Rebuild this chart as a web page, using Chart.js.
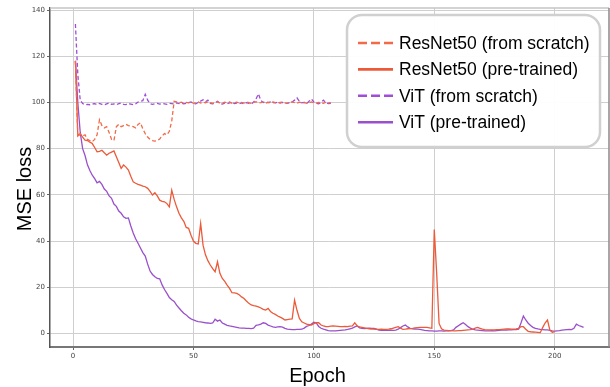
<!DOCTYPE html>
<html>
<head>
<meta charset="utf-8">
<script src="https://cdn.jsdelivr.net/npm/chart.js@4.4.1/dist/chart.umd.min.js"></script>
<style>
  html, body { margin: 0; padding: 0; background: #fff; }
  canvas { display: block; }
</style>
</head>
<body>
<canvas id="chart" width="610" height="387"></canvas>
<script>
// valeurs, une par epoch (epoch 1, 2, 3, ...)
const firstEpoch = 1;

const resnetScratch = [
  118, 85, 86.5, 85.5, 86, 84, 83.5, 83, 84, 86,
  92.5, 90, 89, 89.5, 87, 84, 83.5, 89.5, 90.5, 89.5,
  90, 90.5, 90, 89.8, 89.5, 89, 90.5, 91.2, 88.5, 86.5,
  85, 84, 83.5, 83.3, 83.5, 84.2, 85.5, 86.5, 86, 87.5,
  92, 100.5, 100.2, 99.8, 100.1, 99.7, 100, 99.8, 100.2, 99.6,
  99.9, 100.2, 99.7, 100.1, 99.8, 100.3, 99.9, 99.6, 100, 100.2,
  99.8, 99.7, 100.1, 99.9, 100.2, 99.6, 99.9, 100.1, 99.8, 100,
  99.7, 100.2, 99.9, 99.6, 100, 100.3, 99.8, 99.9, 100.1, 99.7,
  100, 99.8, 100.2, 99.9, 99.7, 100, 100.1, 99.8, 99.6, 100,
  100.2, 99.9, 99.7, 100.1, 99.8, 100, 99.6, 99.9, 100.2, 99.8,
  99.7, 100, 99.9, 99.6, 100.1, 99.8, 99.9
];

const resnetPre = [
  118, 85.5, 86.5, 85, 83.7, 83.5, 82.8, 82.2, 80.5, 78.6,
  78.8, 79.3, 78.2, 77.2, 78, 78.5, 79, 76.5, 74, 71.4,
  72.9, 72, 70.7, 68, 65.6, 65, 64.5, 64.2, 63.8, 63.5,
  62.8, 61.5, 59.9, 60.9, 59.5, 57.7, 57.2, 57, 56.2, 54.8,
  62, 58, 54.8, 52, 50, 48.5, 45.9, 45.5, 42.5, 40,
  39, 38.7, 47.6, 38.2, 34, 31.5, 29.6, 28, 26.7, 31,
  26, 23.8, 22.5, 20.9, 19.5, 17.6, 17.5, 17.3, 16.7, 15.8,
  15.1, 14, 13, 12.3, 12, 11.8, 11.5, 11, 10.4, 10.1,
  10.8, 9.5, 8.7, 8.2, 7.5, 7, 6.5, 5.8, 6, 6.2,
  6.3, 14.4, 10, 6.5, 5, 4.5, 4, 3.8, 3.6, 4.2,
  4.6, 4.6, 3.6, 3.2, 2.9, 2.9, 3.1, 3.2, 3.1, 3,
  2.9, 2.9, 3, 2.9, 3.1, 3.2, 4.6, 3.2, 2.8, 2.6,
  2.4, 2.2, 2, 1.9, 1.8, 1.7, 1.7, 1.8, 1.7, 1.7,
  1.8, 2, 2.3, 2.6, 2.9, 2.3, 1.7, 1.8, 2, 2.1,
  2.2, 2.4, 2.5, 2.6, 2.6, 2.6, 2.6, 2.4, 2.2, 45,
  26, 4.3, 2, 1.4, 1.3, 1.2, 1.2, 1.1, 1.1, 1.2,
  1.2, 1.3, 1.4, 1.5, 1.6, 1.8, 2.3, 2.6, 2.2, 1.8,
  1.6, 1.5, 1.5, 1.5, 1.5, 1.6, 1.6, 1.7, 1.8, 1.9,
  1.9, 1.8, 1.8, 1.9, 2.2, 2.9, 2.9, 1.8, 0.9, 0.7,
  0.6, 0.5, 0.4, 0.3, 2.5, 4.5, 5.8, 1.4, 0.5, 0.8
];

const vitScratch = [
  134, 112, 101, 99.5, 99, 99.2, 99, 99.3, 99.5, 99.1,
  99.6, 99.2, 99, 99.4, 99.8, 99.2, 99.4, 99, 99.5, 99.7,
  99.2, 99.1, 99.5, 99.3, 99, 99.4, 100.2, 100.5, 100.8, 103.5,
  101, 99.5, 99.2, 99.4, 99.6, 99.3, 99.5, 99.4, 99.2, 99.6,
  99.5, 99.3, 99.8, 99.5, 99.7, 99.4, 99.6, 99.9, 100.2, 99.6,
  99.4, 100, 100.6, 101.2, 100.3, 101, 99.6, 99.4, 99.8, 100.5,
  99.5, 99.3, 99.7, 99.4, 99.8, 100.2, 99.5, 99.7, 99.5, 99.8,
  99.4, 99.9, 99.6, 99.3, 100.2, 101.5, 103.7, 100.8, 100, 100.3,
  99.9, 100.2, 100, 99.8, 100.1, 99.7, 100, 99.8, 99.6, 99.9,
  100.2, 101, 102, 100.5, 99.8, 100, 99.5, 100.5, 101.5, 100.2,
  99.6, 99.4, 100, 101, 99.8, 99.5, 99.6, 99.6
];

const vitPre = [
  118, 100, 87, 80, 77, 73, 70.5, 68.5, 67, 65.2,
  65.8, 64.5, 62.5, 61.5, 59.5, 58.5, 56, 55, 53, 52,
  50.5, 49.8, 50, 46.5, 43.5, 41, 39, 37, 35, 33.5,
  30, 27, 25.5, 24.5, 23.8, 23.6, 21, 19, 17.3, 15.5,
  14.6, 13.8, 12.2, 11, 9.8, 8.7, 8, 7, 6.3, 5.8,
  5.4, 5.1, 5, 4.8, 4.6, 4.5, 4.3, 4.5, 6.1, 5.3,
  5.8, 4.5, 4, 3.5, 3.2, 3, 2.8, 2.6, 2.4, 2.3,
  2.3, 2.2, 2.2, 2.1, 2.3, 3.5, 3.7, 4, 4.6, 4.3,
  3.6, 3.2, 2.8, 2.6, 2.8, 2.9, 2.7, 2.2, 1.8, 1.7,
  1.6, 1.6, 1.7, 1.7, 1.8, 2.3, 3, 3.4, 4, 4.8,
  4.5, 3, 2.2, 1.8, 1.5, 1.2, 1.1, 1.1, 1.1, 1.2,
  1.3, 1.4, 1.5, 1.7, 2, 2.3, 2.8, 3.2, 2.4, 2.2,
  2.1, 2.2, 2.3, 2.2, 2.2, 1.8, 1.4, 1.3, 1.3, 1.4,
  1.3, 1.4, 1.3, 1.4, 1.8, 2.5, 3.2, 3.6, 2.8, 2.2,
  2, 1.9, 1.8, 1.7, 1.5, 1.3, 1.2, 1.1, 1.1, 1,
  1, 1.1, 1.1, 1, 1.1, 1.1, 1.2, 1.5, 2.6, 3.3,
  4, 4.6, 3.8, 2.9, 2.3, 1.8, 1.5, 1.4, 1.3, 1.2,
  1.1, 1.1, 1.1, 1.2, 1.1, 1.2, 1.3, 1.4, 1.4, 1.4,
  1.5, 1.5, 1.6, 1.6, 1.8, 4.5, 7.5, 5.8, 4.4, 3.4,
  2.6, 2.2, 1.9, 1.7, 1.6, 1.5, 1.5, 1.3, 1.1, 1,
  1.1, 1.2, 1.4, 1.5, 1.6, 1.7, 1.6, 2.2, 4, 3.4,
  3, 2.6
];

const seriesLabels = ['ResNet50 (from scratch)', 'ResNet50 (pre-trained)', 'ViT (from scratch)', 'ViT (pre-trained)'];
const xTicks = [0, 50, 100, 150, 200];
const yTicks = [0, 20, 40, 60, 80, 100, 120, 140];

const orangeDash = '#f26a48';
const orangeSolid = '#ec5a3a';
const purpleDash = '#a04ed8';
const purpleSolid = '#9a4fcc';

function toPoints(values) {
    return values.map((v, i) => ({ x: firstEpoch + i, y: v }));
}

// légende dessinée dans la zone du graphique (boîte arrondie en haut à droite)
const boxLegend = {
    id: 'boxLegend',
    afterDraw(chart) {
        const ctx = chart.ctx;
        const x = 347, y = 15, w = 253, h = 132, r = 15;
        ctx.save();
        ctx.beginPath();
        ctx.roundRect(x, y, w, h, r);
        ctx.fillStyle = 'rgba(255,255,255,0.95)';
        ctx.fill();
        ctx.lineWidth = 2.5;
        ctx.strokeStyle = '#d0d0d0';
        ctx.stroke();

        ctx.font = '17.5px "Liberation Sans", Arial, sans-serif';
        ctx.textBaseline = 'middle';
        ctx.textAlign = 'left';
        chart.data.datasets.forEach((ds, i) => {
            const rowY = 43 + i * 26.4;
            ctx.beginPath();
            ctx.setLineDash(ds.borderDash && ds.borderDash.length ? [9, 4] : []);
            ctx.lineWidth = 2.6;
            ctx.strokeStyle = ds.borderColor;
            ctx.moveTo(358, rowY);
            ctx.lineTo(393, rowY);
            ctx.stroke();
            ctx.fillStyle = '#000';
            ctx.fillText(ds.label, 399, rowY + 1);
        });
        ctx.restore();
    }
};

// cadre haut/droite + titres des axes
const frameAndTitles = {
    id: 'frameAndTitles',
    beforeDatasetsDraw(chart) {
        const { ctx, chartArea } = chart;
        ctx.save();
        ctx.lineWidth = 1.5;
        ctx.strokeStyle = '#c4c4c4';
        ctx.beginPath();
        ctx.moveTo(chartArea.left, chartArea.top);
        ctx.lineTo(chartArea.right, chartArea.top);
        ctx.stroke();
        ctx.strokeStyle = '#8a8a8a';
        ctx.beginPath();
        ctx.moveTo(chartArea.right, chartArea.top);
        ctx.lineTo(chartArea.right, chartArea.bottom);
        ctx.stroke();
        ctx.restore();
    },
    afterDraw(chart) {
        const ctx = chart.ctx;
        ctx.save();
        ctx.fillStyle = '#000';
        ctx.font = '20px "Liberation Sans", Arial, sans-serif';
        ctx.textAlign = 'center';
        ctx.textBaseline = 'alphabetic';
        ctx.fillText('Epoch', 317.5, 382);
        ctx.translate(30.5, 189);
        ctx.rotate(-Math.PI / 2);
        ctx.fillText('MSE loss', 0, 0);
        ctx.restore();
    }
};

const tickFont = { family: '"DejaVu Sans", sans-serif', size: 7 };

new Chart(document.getElementById('chart'), {
    type: 'line',
    data: {
        datasets: [
            { label: seriesLabels[0], data: toPoints(resnetScratch), borderColor: orangeDash, borderDash: [4, 2.5] },
            { label: seriesLabels[1], data: toPoints(resnetPre), borderColor: orangeSolid, borderDash: [] },
            { label: seriesLabels[2], data: toPoints(vitScratch), borderColor: purpleDash, borderDash: [4, 2.5] },
            { label: seriesLabels[3], data: toPoints(vitPre), borderColor: purpleSolid, borderDash: [] }
        ]
    },
    options: {
        responsive: false,
        animation: false,
        layout: { padding: { top: 8, right: 1, left: 0, bottom: 0 } },
        elements: {
            point: { radius: 0 },
            line: { borderWidth: 1.3, tension: 0, fill: false }
        },
        plugins: {
            legend: { display: false },
            tooltip: { enabled: false }
        },
        scales: {
            x: {
                type: 'linear',
                min: -9.55,
                max: 222.55,
                afterBuildTicks: s => { s.ticks = xTicks.map(v => ({ value: v })); },
                afterFit: s => { s.height = 40; },
                ticks: { font: tickFont, color: '#444', padding: 2, maxRotation: 0 },
                grid: { color: '#cfcfcf', lineWidth: 1, tickLength: 3, tickColor: '#666' },
                border: { color: '#777', width: 2 }
            },
            y: {
                type: 'linear',
                min: -5.9,
                max: 140.9,
                afterBuildTicks: s => { s.ticks = yTicks.map(v => ({ value: v })); },
                afterFit: s => { s.width = 50; },
                ticks: { font: tickFont, color: '#444', padding: 2 },
                grid: { color: '#cfcfcf', lineWidth: 1, tickLength: 3, tickColor: '#666' },
                border: { color: '#555', width: 1.5 }
            }
        }
    },
    plugins: [frameAndTitles, boxLegend]
});
</script>
</body>
</html>
